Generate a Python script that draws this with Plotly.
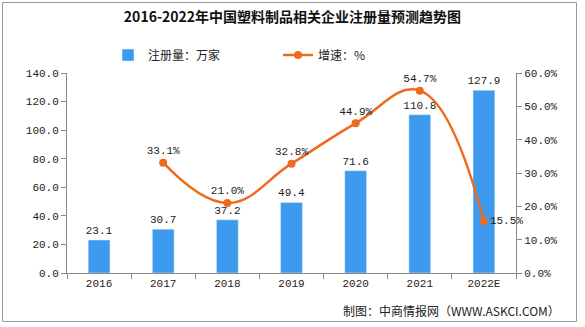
import plotly.graph_objects as go

years = ["2016", "2017", "2018", "2019", "2020", "2021", "2022E"]
registrations = [23.1, 30.7, 37.2, 49.4, 71.6, 110.8, 127.9]
growth = [None, 33.1, 21.0, 32.8, 44.9, 54.7, 15.5]
growth_pos = ["top center", "top center", "top center", "top center", "top center", "middle right"]

BAR = "#3D9AEF"
LINE = "#EE6A1E"
NUMF = "Liberation Mono, DejaVu Sans Mono, monospace"
CJK = "Noto Sans CJK SC"

fig = go.Figure()
fig.add_trace(go.Bar(
    x=years, y=registrations, name="注册量：万家",
    marker_color=BAR, width=0.34,
    text=[f"{v:.1f}" for v in registrations], textposition="outside",
    constraintext="none",
    textfont=dict(family=NUMF, size=11, color="#222"), cliponaxis=False,
))
gx = [y for y, g in zip(years, growth) if g is not None]
gy = [g for g in growth if g is not None]
fig.add_trace(go.Scatter(
    x=gx, y=gy, name="增速：%", yaxis="y2", mode="lines+markers+text",
    line=dict(color=LINE, width=2.5, shape="spline", smoothing=1.2),
    marker=dict(color=LINE, size=8),
    text=[f"{v:.1f}%" for v in gy], textposition=growth_pos,
    textfont=dict(family=NUMF, size=11, color="#222"), cliponaxis=False,
))

axis_common = dict(showgrid=False, linecolor="#888", linewidth=1, ticks="outside",
                   tickcolor="#888", ticklen=5, tickfont=dict(family=NUMF, size=11, color="#222"))
fig.update_layout(
    width=585, height=327,
    margin=dict(l=67, r=69, t=73, b=54),
    paper_bgcolor="white", plot_bgcolor="white",
    title=dict(text="<b>2016-2022年中国塑料制品相关企业注册量预测趋势图</b>",
               x=0.5, xanchor="center", y=1 - 17 / 327, yanchor="middle",
               font=dict(family=CJK, size=14, color="#111")),
    showlegend=True,
    legend=dict(orientation="h", x=0.47, xanchor="center", y=1.09, yanchor="middle",
                font=dict(family=CJK, size=12, color="#222"), entrywidth=125,
                bgcolor="rgba(0,0,0,0)"),
    xaxis=dict(type="category", tickson="boundaries", **axis_common),
    yaxis=dict(range=[0, 140], dtick=20, tickformat=".1f", **axis_common),
    yaxis2=dict(range=[0, 60], dtick=10, overlaying="y", side="right",
                ticksuffix="%", tickformat=".1f", **axis_common),
    shapes=[dict(type="rect", xref="paper", yref="paper",
                 x0=(2.5 - 67) / 449, x1=(576.5 - 67) / 449,
                 y0=(273 - 321.5) / 200, y1=(273 - 2.5) / 200,
                 line=dict(color="#999", width=1))],
    annotations=[dict(text="制图：中商情报网（WWW.ASKCI.COM）", xref="paper", yref="paper",
                      x=(562 - 67) / 449, xanchor="right", y=(273 - 310) / 200, yanchor="middle",
                      showarrow=False, font=dict(family=CJK, size=12, color="#222"))],
)
fig.write_html("out.html")
